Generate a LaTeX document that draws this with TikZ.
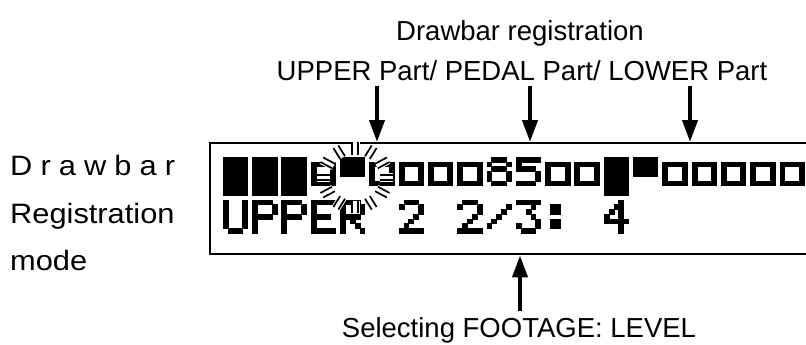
\documentclass[tikz,border=0pt]{standalone}
\usepackage{fontspec}
\setmainfont{Liberation Sans}
\usetikzlibrary{positioning,arrows.meta,calc}

% --- LCD pixel font ---
\newcommand{\lpw}{4.883}
\newcommand{\lph}{4.75}
\newcommand{\lcdpx}[1]{\fill[lcdpix] ({\cellx+#1*\lpw},{\celly+\lrow*\lph}) rectangle ++(\lpw,\lph);}
\newcommand{\lcdbits}[5]{%
  \ifnum#1=1 \lcdpx{0}\fi
  \ifnum#2=1 \lcdpx{1}\fi
  \ifnum#3=1 \lcdpx{2}\fi
  \ifnum#4=1 \lcdpx{3}\fi
  \ifnum#5=1 \lcdpx{4}\fi}
\newcommand{\lcdchar}[3]{%
  \pgfmathsetmacro{\cellx}{223+#1*29.3}%
  \pgfmathsetmacro{\celly}{157+#2*42.75}%
  \foreach \bits [count=\lrow from 0] in #3 {\expandafter\lcdbits\bits}}

\newcommand{\gfull}{11111,11111,11111,11111,11111,11111,11111,11111}
\newcommand{\gtop}{11111,11111,11111,11111}
\newcommand{\gbox}{00000,11111,10001,10001,10001,11111}
\newcommand{\geight}{01110,10001,01110,10001,10001,01110}
\newcommand{\gfive}{11111,10000,11110,00001,00001,11110}
\newcommand{\gU}{10001,10001,10001,10001,10001,10001,01110}
\newcommand{\gP}{11110,10001,10001,11110,10000,10000,10000}
\newcommand{\gE}{11111,10000,10000,11110,10000,10000,11111}
\newcommand{\gR}{11110,10001,10001,11110,10100,10010,10001}
\newcommand{\gtwo}{01110,10001,00001,00010,00100,01000,11111}
\newcommand{\gslash}{00000,00001,00010,00100,01000,10000,00000}
\newcommand{\gthree}{11111,00010,00100,00010,00001,10001,01110}
\newcommand{\gcolon}{00000,01100,01100,00000,01100,01100,00000}
\newcommand{\gfour}{00010,00110,01010,10010,11111,00010,00010}

\begin{document}
\begin{tikzpicture}[
    x=1pt, y=-1pt,
    lbl/.style={font=\fontsize{27.5}{32}\selectfont, inner sep=0pt},
    sidelbl/.style={font=\fontsize{28}{34}\selectfont, inner sep=0pt, anchor=base west},
    lcdbox/.style={draw, line width=2.4pt, minimum width=620pt, minimum height=111pt, inner sep=0pt},
    lcdpix/.style={fill=black, draw=black, line width=0.3pt},
    bigarrow/.style={-{Triangle[length=22pt,width=15pt]}, line width=4pt},
    tickhalo/.style={draw=white, line width=9pt},
    tickline/.style={draw=black, line width=1.7pt}
  ]
  \useasboundingbox (0,0) rectangle (806,345);

  % --- Labels ---
  \node[lbl, anchor=base] (title) at (520,41) {Drawbar registration};
  \node[lbl, anchor=base] (parts) at (522,81) {UPPER Part/ PEDAL Part/ LOWER Part};
  \node[lbl, anchor=base] (footage) at (519,337) {Selecting FOOTAGE: LEVEL};

  \node[sidelbl] (mode1) at (10,175) {\scalebox{1.1}[1]{\makebox[150pt][s]{D r a w b a r}}};
  \node[sidelbl] (mode2) at (10,223) {\scalebox{1.1}[1]{Registration}};
  \node[sidelbl] (mode3) at (10,270) {\scalebox{1.1}[1]{mode}};

  % --- LCD frame ---
  \node[lcdbox, anchor=north west] (lcd) at (209,142) {};

  % --- LCD line 1 ---
  \lcdchar{0}{0}{\gfull}
  \lcdchar{1}{0}{\gfull}
  \lcdchar{2}{0}{\gfull}
  \lcdchar{3}{0}{\gbox}
  \lcdchar{4}{0}{\gtop}
  \foreach \c in {5,6,7,8} {\lcdchar{\c}{0}{\gbox}}
  \lcdchar{9}{0}{\geight}
  \lcdchar{10}{0}{\gfive}
  \lcdchar{11}{0}{\gbox}
  \lcdchar{12}{0}{\gbox}
  \lcdchar{13}{0}{\gfull}
  \lcdchar{14}{0}{\gtop}
  \foreach \c in {15,...,19} {\lcdchar{\c}{0}{\gbox}}

  % --- LCD line 2 ---
  \lcdchar{0}{1}{\gU}
  \lcdchar{1}{1}{\gP}
  \lcdchar{2}{1}{\gP}
  \lcdchar{3}{1}{\gE}
  \lcdchar{4}{1}{\gR}
  \lcdchar{6}{1}{\gtwo}
  \lcdchar{8}{1}{\gtwo}
  \lcdchar{9}{1}{\gslash}
  \lcdchar{10}{1}{\gthree}
  \lcdchar{11}{1}{\gcolon}
  \lcdchar{13}{1}{\gfour}

  % --- Blinking cursor marks ---
  \coordinate (blink) at (355,177.5);
  \foreach \a in {0,30,...,330} {
    \begin{scope}[shift={(blink)}, xscale=1.08, rotate=\a]
      \draw[tickhalo] (23,0) -- (35.5,0);
      \draw[tickline] (23,-2.6) -- (35.5,-2.6);
      \draw[tickline] (23,2.6) -- (35.5,2.6);
    \end{scope}
  }

  % --- Arrows ---
  \coordinate (upper) at (377,86);
  \coordinate (pedal) at (530,86);
  \coordinate (lower) at (690,86);
  \coordinate (level) at (520,311);
  \draw[bigarrow] (upper) -- (upper |- lcd.north);
  \draw[bigarrow] (pedal) -- (pedal |- lcd.north);
  \draw[bigarrow] (lower) -- (lower |- lcd.north);
  \draw[bigarrow] (level) -- (level |- lcd.south);

\end{tikzpicture}
\end{document}
